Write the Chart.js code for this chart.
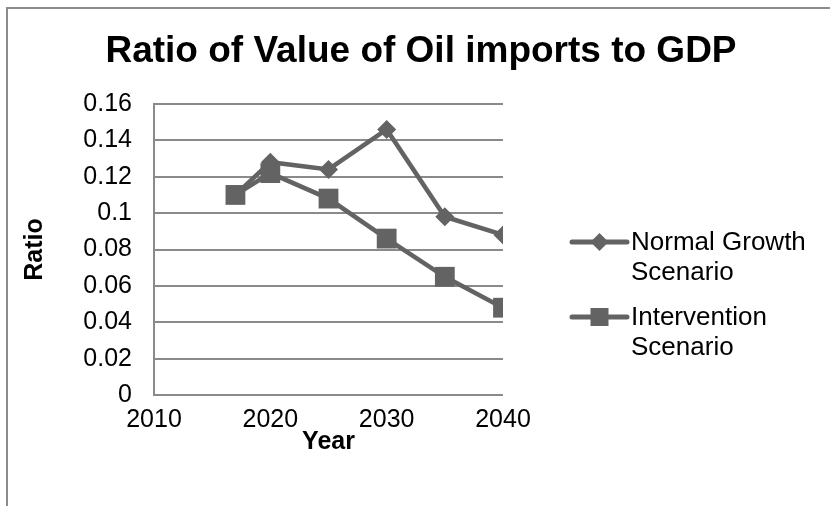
<!DOCTYPE html>
<html>
<head>
<meta charset="utf-8">
<script src="https://cdn.jsdelivr.net/npm/chart.js@4"></script>
<style>
  body { margin: 0; background: #fff; }
  #wrap { position: relative; width: 830px; height: 506px; overflow: hidden; }
  #frame { position: absolute; left: 6px; top: 7px; width: 1000px; height: 1000px; border: 2px solid #8c8c8c; }
  #myChart { position: absolute; left: 0; top: 0; }
</style>
</head>
<body>
<div id="wrap">
  <div id="frame"></div>
  <canvas id="myChart" width="830" height="506"></canvas>
</div>
<script>
const years = [2017, 2020, 2025, 2030, 2035, 2040];
const normalGrowth = [0.110, 0.128, 0.124, 0.146, 0.098, 0.088];
const intervention = [0.110, 0.122, 0.108, 0.086, 0.065, 0.048];
const seriesNames = ['Normal Growth Scenario', 'Intervention Scenario'];
const legendLines = [['Normal Growth', 'Scenario'], ['Intervention', 'Scenario']];
const xTickLabels = ['2010', '2020', '2030', '2040'];
const yTickLabels = ['0', '0.02', '0.04', '0.06', '0.08', '0.1', '0.12', '0.14', '0.16'];
const chartTitle = 'Ratio of Value of Oil imports to GDP';

const lineColor = '#636363';
const gridColor = '#8a8a8a';
const fontFamily = '"Liberation Sans", Arial, sans-serif';

function toPoints(values) {
    return values.map((v, i) => ({ x: years[i], y: v }));
}

// title centred over the whole canvas (the built-in one gets squeezed by the right padding)
const wideTitle = {
    id: 'wideTitle',
    afterDraw(chart) {
        const ctx = chart.ctx;
        ctx.save();
        ctx.fillStyle = '#000';
        ctx.font = 'bold 37px ' + fontFamily;
        ctx.textAlign = 'center';
        ctx.textBaseline = 'middle';
        ctx.fillText(chartTitle, 421, 52);
        ctx.restore();
    }
};

// legend on the right, labels wrapped on two lines like the original
const sideLegend = {
    id: 'sideLegend',
    afterDraw(chart) {
        const ctx = chart.ctx;
        const area = chart.chartArea;
        const x0 = area.right + 69;
        const x1 = area.right + 124;
        const mid = (x0 + x1) / 2;
        const rows = [242, 317];
        ctx.save();
        chart.data.datasets.forEach(ds => {
            const idx = seriesNames.indexOf(ds.label);
            const y = rows[idx];
            ctx.strokeStyle = ds.borderColor;
            ctx.lineWidth = 5;
            ctx.lineCap = 'round';
            ctx.beginPath();
            ctx.moveTo(x0, y);
            ctx.lineTo(x1, y);
            ctx.stroke();
            ctx.fillStyle = ds.borderColor;
            ctx.beginPath();
            if (ds.pointStyle === 'rectRot') {
                const r = 9;
                ctx.moveTo(mid, y - r);
                ctx.lineTo(mid + r, y);
                ctx.lineTo(mid, y + r);
                ctx.lineTo(mid - r, y);
                ctx.closePath();
            } else {
                ctx.rect(mid - 9, y - 9, 18, 18);
            }
            ctx.fill();
            ctx.fillStyle = '#000';
            ctx.font = '26px ' + fontFamily;
            ctx.textBaseline = 'middle';
            ctx.textAlign = 'left';
            legendLines[idx].forEach((t, k) => {
                ctx.fillText(t, x1 + 4, y + 1 + k * 30);
            });
        });
        ctx.restore();
    }
};

const ctx = document.getElementById('myChart').getContext('2d');
const myChart = new Chart(ctx, {
    type: 'line',
    data: {
        datasets: [{
            label: seriesNames[0],
            data: toPoints(normalGrowth),
            borderColor: lineColor,
            backgroundColor: lineColor,
            borderWidth: 4.5,
            pointStyle: 'rectRot',
            pointRadius: 9.5,
            pointBorderWidth: 0,
            order: 1
        }, {
            label: seriesNames[1],
            data: toPoints(intervention),
            borderColor: lineColor,
            backgroundColor: lineColor,
            borderWidth: 4.5,
            pointStyle: 'rect',
            pointRadius: 14,
            pointBorderWidth: 0,
            order: 0
        }]
    },
    options: {
        responsive: false,
        animation: false,
        layout: { padding: { left: 0, right: 327, top: 104, bottom: 0 } },
        plugins: {
            legend: { display: false },
            tooltip: { enabled: false },
            title: { display: false }
        },
        scales: {
            x: {
                type: 'linear',
                min: 2010,
                max: 2040,
                afterFit: scale => { scale.height = 111; },
                afterBuildTicks: scale => {
                    scale.ticks = xTickLabels.map(t => ({ value: Number(t) }));
                },
                grid: { display: false, drawTicks: false },
                border: { display: false },
                ticks: {
                    color: '#000',
                    padding: 10,
                    maxRotation: 0,
                    font: { family: fontFamily, size: 25 },
                    callback: (value, i) => xTickLabels[i]
                },
                title: {
                    display: true,
                    text: 'Year',
                    color: '#000',
                    font: { family: fontFamily, size: 25, weight: 'bold' },
                    padding: { top: 0, bottom: 49 }
                }
            },
            y: {
                min: 0,
                max: 0.16,
                afterFit: scale => { scale.width = 154; },
                afterBuildTicks: scale => {
                    scale.ticks = yTickLabels.map(t => ({ value: Number(t) }));
                },
                grid: { color: gridColor, lineWidth: 2, drawTicks: false },
                border: { display: true, color: gridColor, width: 2 },
                ticks: {
                    color: '#000',
                    padding: 22,
                    font: { family: fontFamily, size: 25 },
                    callback: (value, i) => yTickLabels[i]
                },
                title: {
                    display: true,
                    text: 'Ratio',
                    color: '#000',
                    font: { family: fontFamily, size: 25, weight: 'bold' },
                    padding: { top: 20, bottom: 0 }
                }
            }
        }
    },
    plugins: [wideTitle, sideLegend]
});
</script>
</body>
</html>
